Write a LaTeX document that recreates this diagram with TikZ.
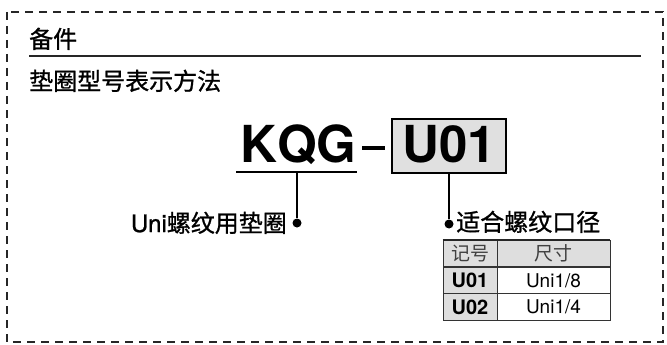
\documentclass[tikz,border=0pt]{standalone}
\usepackage{fontspec}
\setmainfont{TeX Gyre Heros}
\newfontfamily\cjk{Noto Sans CJK SC}
\newfontfamily\cjkmed[FakeBold=1]{Noto Sans CJK SC}
\newfontfamily\heromed[FakeBold=1]{TeX Gyre Heros}

\begin{document}
\begin{tikzpicture}[x=1pt, y=-1pt,
        bigtxt/.style={font=\fontsize{51}{51}\selectfont\bfseries, inner sep=0pt},
        headtxt/.style={font=\fontsize{24}{24}\selectfont\cjkmed, inner sep=0pt},
        labeltxt/.style={font=\fontsize{24}{24}\selectfont\heromed, inner sep=0pt},
        dotnode/.style={circle, fill=black, inner sep=0pt, minimum size=9pt},
        cellbox/.style={draw=black!80, line width=0.8pt, minimum height=26.7pt, inner sep=0pt, font=\fontsize{19}{19}\selectfont},
        graycell/.style={cellbox, fill=black!13},
        ]
                \useasboundingbox (0,0) rectangle (667,345);
                \draw[line width=2pt, black!85, dash pattern=on 8pt off 6pt] (7,12) rectangle (663,342);

                % heading
                \node[headtxt, anchor=base west] at (29,48) (title) {备件};
                \coordinate (rule1) at (29,56);
                \coordinate (rule2) at (641,56);
                \draw[line width=2pt, black!85] (rule1) -- (rule2);
                \node[headtxt, anchor=base west] at (29,90) (sub) {垫圈型号表示方法};

                % model code
                \node[bigtxt, anchor=base west] at (240,162) (kqg) {KQG};
                \coordinate (ula) at (236,172);
                \coordinate (ulb) at (357,172);
                \coordinate (ulm) at (297,172);
                \draw[line width=2.5pt] (ula) -- (ulb);
                \coordinate (dsa) at (362,148);
                \coordinate (dsb) at (385,148);
                \draw[line width=4pt] (dsa) -- (dsb);
                \node[bigtxt, draw, line width=1.5pt, fill=black!12, minimum width=114pt, minimum height=54pt, text height=36pt, text depth=4pt] at (449,146) (u01) {U01};

                % leaders
                \node[dotnode] at (297,223) (dotA) {};
                \node[dotnode] at (449,224) (dotB) {};
                \draw[line width=1.5pt] (ulm) -- (dotA);
                \draw[line width=1.5pt] (u01.south) -- (dotB);
                \node[labeltxt, anchor=base east] at (287,232) (lblA) {Uni{\cjkmed 螺纹用垫圈}};
                \node[labeltxt, anchor=base west] at (456,231) (lblB) {{\cjkmed 适合螺纹口径}};

                % size table
                \node[graycell, minimum width=54pt, text=black!75] at (470,253.5) (h1) {\cjk 记号};
                \node[graycell, minimum width=113pt, text=black!75] at (553.5,253.5) (h2) {\cjk 尺寸};
                \node[graycell, minimum width=54pt, font=\fontsize{20}{20}\selectfont\bfseries] at (470,280.5) (c11) {U01};
                \node[cellbox, minimum width=113pt] at (553.5,280.5) (c12) {Uni1/8};
                \node[graycell, minimum width=54pt, font=\fontsize{20}{20}\selectfont\bfseries] at (470,307.2) (c21) {U02};
                \node[cellbox, minimum width=113pt] at (553.5,307.2) (c22) {Uni1/4};
                \draw[line width=1.5pt, black!85] (h1.north west) -- (h2.north east);

            \end{tikzpicture}
\end{document}
